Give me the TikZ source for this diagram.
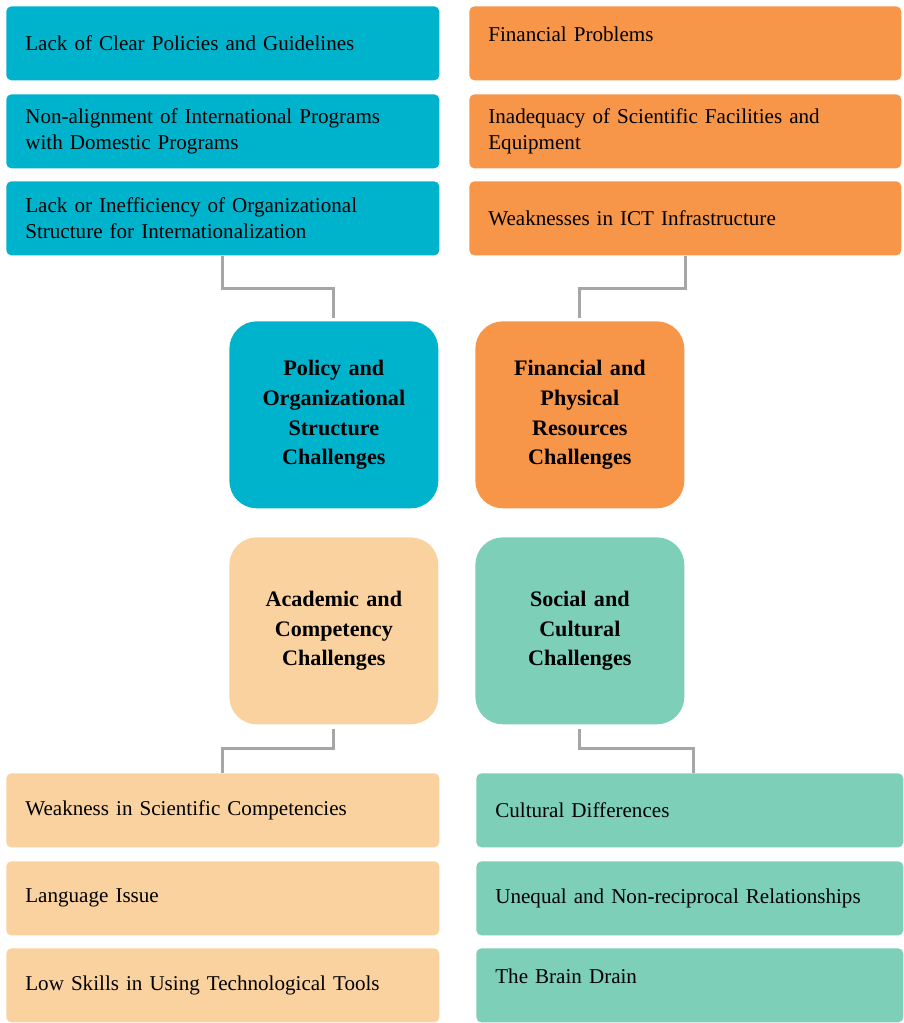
\documentclass[tikz,border=0pt]{standalone}
\usepackage{fontspec}
\setmainfont{Liberation Serif}
\usetikzlibrary{calc}

\definecolor{polblue}{HTML}{00B3CC}
\definecolor{finorange}{HTML}{F79549}
\definecolor{acapeach}{HTML}{FAD2A0}
\definecolor{socgreen}{HTML}{7DCFB7}
\definecolor{linkgray}{HTML}{A6A6A6}

\tikzset{
  leaf/.style={anchor=north west, rounded corners=0.1cm, minimum height=1.48cm,
    inner xsep=0.38cm, align=left, font=\fontsize{12}{14.7}\selectfont},
  hub/.style={anchor=north west, rounded corners=0.55cm, minimum width=4.18cm,
    minimum height=3.74cm, text width=3.6cm, align=center,
    font=\fontsize{12.6}{17}\selectfont\bfseries},
  link/.style={draw=linkgray, line width=1.7pt},
  raised/.style={text depth=0.36cm}
}

\begin{document}
\begin{tikzpicture}[x=0.02cm, y=-0.02cm]
   \useasboundingbox (0,0) rectangle (903,1023);

   % policy leaves
   \node[leaf, fill=polblue, text width=7.9cm] (pl1) at (6,6) {Lack of Clear Policies and Guidelines};
   \node[leaf, fill=polblue, text width=7.9cm] (pl2) at (6,94) {Non-alignment of International Programs\\with Domestic Programs};
   \node[leaf, fill=polblue, text width=7.9cm] (pl3) at (6,181) {Lack or Inefficiency of Organizational\\Structure for Internationalization};

   % financial leaves
   \node[leaf, raised, fill=finorange, text width=7.88cm] (fl1) at (469,6) {Financial Problems};
   \node[leaf, fill=finorange, text width=7.88cm] (fl2) at (469,94) {Inadequacy of Scientific Facilities and\\Equipment};
   \node[leaf, fill=finorange, text width=7.88cm] (fl3) at (469,181) {Weaknesses in ICT Infrastructure};

   % hubs
   \node[hub, fill=polblue] (pol) at (229,321) {Policy and\\Organizational\\Structure\\Challenges};
   \node[hub, fill=finorange] (fin) at (475,321) {Financial and\\Physical\\Resources\\Challenges};
   \node[hub, fill=acapeach] (aca) at (229,537) {Academic and\\Competency\\Challenges};
   \node[hub, fill=socgreen] (soc) at (475,537) {Social and\\Cultural\\Challenges};

   % academic leaves
   \node[leaf, fill=acapeach, text width=7.9cm] (al1) at (6,773) {Weakness in Scientific Competencies};
   \node[leaf, fill=acapeach, text width=7.9cm] (al2) at (6,861) {Language Issue};
   \node[leaf, fill=acapeach, text width=7.9cm] (al3) at (6,948) {Low Skills in Using Technological Tools};

   % social leaves
   \node[leaf, fill=socgreen, text width=7.78cm] (sl1) at (476,773) {Cultural Differences};
   \node[leaf, fill=socgreen, text width=7.78cm] (sl2) at (476,861) {Unequal and Non-reciprocal Relationships};
   \node[leaf, raised, fill=socgreen, text width=7.78cm] (sl3) at (476,948) {The Brain Drain};

   % connectors
   \draw[link, shorten >=0.06cm] (pl3.south) |- ($(pl3.south)!.5!(pol.north)$) -| (pol.north);
   \draw[link, shorten >=0.06cm] (fl3.south) |- ($(fl3.south)!.5!(fin.north)$) -| (fin.north);
   \draw[link, shorten <=0.08cm] (aca.south) |- ($(aca.south)!.5!(al1.north)$) -| (al1.north);
   \draw[link, shorten <=0.08cm] (soc.south) |- ($(soc.south)!.5!(sl1.north)$) -| ([xshift=0.08cm]sl1.north);

\end{tikzpicture}
\end{document}
